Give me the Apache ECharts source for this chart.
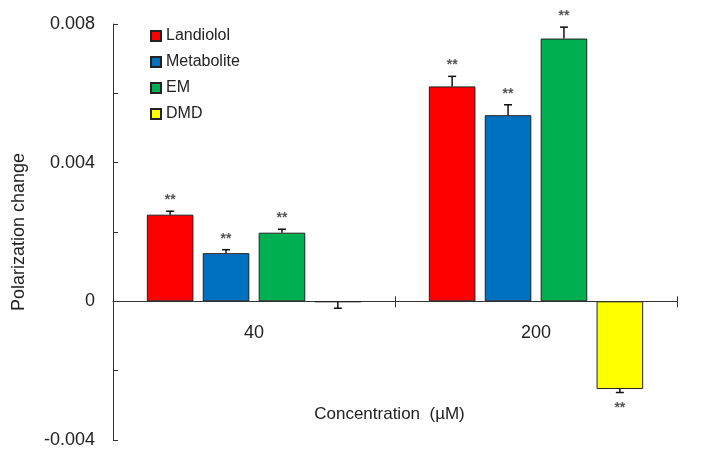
<!DOCTYPE html>
<html>
<head>
<meta charset="utf-8">
<script src="https://cdn.jsdelivr.net/npm/echarts@6/dist/echarts.min.js"></script>
<style>html,body{margin:0;padding:0;background:#fff;}#c{width:703px;height:459px;}</style>
</head>
<body>
<div id="c"></div>
<script>
const categories = ['40', '200'];
const seriesNames = ['Landiolol', 'Metabolite', 'EM', 'DMD'];
const seriesColors = ['#FF0000', '#0070C0', '#00B050', '#FFFF00'];
const landiolol = [0.0025, 0.0062];
const metabolite = [0.00139, 0.00537];
const em = [0.00198, 0.00758];
const dmd = [-0.00002, -0.00253];
const landiololErr = [0.0001, 0.00029];
const metaboliteErr = [0.0001, 0.0003];
const emErr = [0.0001, 0.00033];
const dmdErr = [0.00018, 0.0001];
const landiololSig = [1, 1];
const metaboliteSig = [1, 1];
const emSig = [1, 1];
const dmdSig = [0, 1];

const values = [landiolol, metabolite, em, dmd];
const errs = [landiololErr, metaboliteErr, emErr, dmdErr];
const sigs = [landiololSig, metaboliteSig, emSig, dmdSig];

const CAT_GAP = 0.24, BAR_GAP = 0.2;
const FONT = '"Liberation Sans", Arial, sans-serif';

const errData = [];
values.forEach((arr, s) => arr.forEach((v, c) => errData.push([c, v, errs[s][c], s, sigs[s][c]])));

const barSeries = values.map((arr, s) => ({
  name: seriesNames[s],
  type: 'bar',
  data: arr,
  barCategoryGap: (CAT_GAP * 100) + '%',
  barGap: (BAR_GAP * 100) + '%',
  itemStyle: { color: seriesColors[s], borderColor: '#222', borderWidth: 1 }
}));

const errSeries = {
  type: 'custom',
  data: errData,
  z: 5,
  clip: false,
  renderItem: function (params, api) {
    const c = api.value(0), v = api.value(1), e = api.value(2), s = api.value(3), sig = api.value(4);
    const base = api.coord([c, 0]);
    const bw = api.size([1, 0])[0];
    const remained = bw * (1 - CAT_GAP);
    const barW = remained / (4 + 3 * BAR_GAP);
    const x = base[0] - remained / 2 + s * barW * (1 + BAR_GAP) + barW / 2;
    const sign = v >= 0 ? 1 : -1;
    const y0 = api.coord([c, v])[1];
    const y1 = api.coord([c, v + sign * e])[1];
    const children = [
      { type: 'line', shape: { x1: x, y1: y0, x2: x, y2: y1 }, style: { stroke: '#111', lineWidth: 1.5 } },
      { type: 'line', shape: { x1: x - 4, y1: y1, x2: x + 4, y2: y1 }, style: { stroke: '#111', lineWidth: 1.5 } }
    ];
    if (sig) {
      children.push({
        type: 'text',
        style: {
          text: '**', x: x, y: sign > 0 ? y1 - 4 : y1 + 9,
          align: 'center', verticalAlign: sign > 0 ? 'bottom' : 'top',
          fill: '#555', font: 'bold 14px ' + FONT
        }
      });
    }
    return { type: 'group', children: children };
  }
};

const chart = echarts.init(document.getElementById('c'));
chart.setOption({
  animation: false,
  backgroundColor: '#fff',
  textStyle: { fontFamily: FONT },
  grid: { left: 113, right: 26, top: 24, bottom: 19, containLabel: false, outerBoundsMode: 'none' },
  legend: {
    orient: 'vertical', left: 150, top: 28, padding: 0,
    itemWidth: 10, itemHeight: 10, itemGap: 10, icon: 'rect',
    data: seriesNames,
    textStyle: { fontSize: 16, color: '#222', fontFamily: FONT, lineHeight: 16 }
  },
  xAxis: [{
    type: 'category', data: categories,
    axisLine: { onZero: true, onZeroAxisIndex: 0, lineStyle: { color: '#333', width: 1 } },
    axisTick: { show: true, inside: false, length: 6, lineStyle: { color: '#333' } },
    axisLabel: { fontSize: 18, color: '#222', margin: -116, fontFamily: FONT },
    name: 'Concentration  (µM)', nameLocation: 'middle', nameGap: -34,
    nameTextStyle: { fontSize: 17, color: '#222', fontFamily: FONT, padding: [0, 11, 0, 0] },
    splitLine: { show: false }
  }, {
    type: 'category', data: categories, position: 'bottom',
    axisLine: { show: false, onZero: true, onZeroAxisIndex: 0 },
    axisTick: { show: true, inside: true, length: 5, lineStyle: { color: '#333' } },
    axisLabel: { show: false },
    splitLine: { show: false }
  }],
  yAxis: {
    type: 'value', min: -0.004, max: 0.008, interval: 0.004,
    axisLine: { show: true, lineStyle: { color: '#333', width: 1 } },
    axisTick: { show: true, inside: true, length: 5, lineStyle: { color: '#333' } },
    minorTick: { show: true, splitNumber: 2, length: 5, lineStyle: { color: '#333' } },
    splitLine: { show: false },
    axisLabel: {
      fontSize: 18, color: '#222', margin: 18, fontFamily: FONT,
      formatter: v => (Math.abs(v) < 1e-12 ? '0' : v.toFixed(3))
    },
    name: 'Polarization change', nameLocation: 'middle', nameGap: 85,
    nameTextStyle: { fontSize: 18, color: '#222', fontFamily: FONT }
  },
  series: barSeries.concat([errSeries])
});
</script>
</body>
</html>
